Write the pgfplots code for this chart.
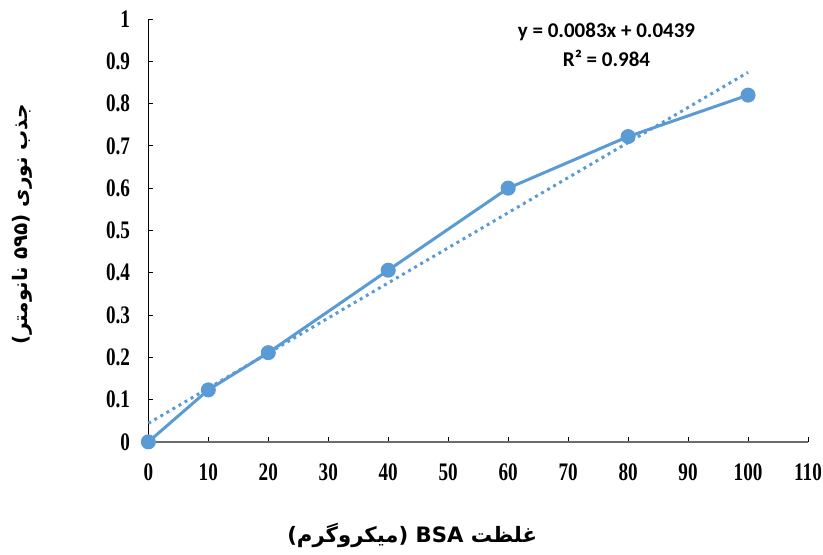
\documentclass[border=0pt]{standalone}
\usepackage{pgfplots}
\pgfplotsset{compat=1.18}
\usepackage{fontspec}
\setmainfont{Liberation Serif}
\newfontfamily\tickfont{Liberation Serif}[FakeStretch=0.76]
\newfontfamily\eqfont{Carlito}
\newfontfamily\arabicfont[Script=Arabic]{DejaVu Sans}
\TeXXeTstate=1
\definecolor{obl}{RGB}{91,155,213}
\begin{document}
\begin{tikzpicture}
\begin{axis}[
  scale only axis,
  width=329.7pt, height=211.35pt,
  xmin=0, xmax=110, ymin=0, ymax=1,
  xtick={0,10,...,110},
  ytick={0,0.1,...,1},
  yticklabels={0,0.1,0.2,0.3,0.4,0.5,0.6,0.7,0.8,0.9,1},
  axis x line=bottom, axis y line=left,
  x axis line style={draw=gray!85!black, line width=1pt, -},
  y axis line style={draw=black, line width=0.5pt, -},
  tick align=inside,
  major tick length=2.5pt,
  tick style={black, line width=0.5pt},
  /pgf/number format/assume math mode=true,
  ticklabel style={font=\tickfont\fontsize{12.6pt}{14pt}\selectfont\bfseries, inner sep=0pt},
  xticklabel style={anchor=center, yshift=-15.2pt},
  yticklabel style={anchor=east, xshift=-9pt},
  clip=false,
]
\addplot[obl, line width=1.5pt, mark=*, mark size=3pt, mark options={fill=obl, draw=obl}]
  coordinates {(0,0) (10,0.123) (20,0.211) (40,0.406) (60,0.600) (80,0.722) (100,0.820)};
\addplot[obl, line width=1.5pt, dash pattern=on 1.5pt off 2pt, no marks]
  coordinates {(0,0.0439) (100,0.8739)};
\node[font=\eqfont\fontsize{10.5pt}{12pt}\selectfont\bfseries, align=center] at (axis cs:76.4,0.938)
  {y = 0.0083x + 0.0439\\[2.5pt]R² = 0.984};
\node[font=\arabicfont\fontsize{10.6pt}{12pt}\selectfont\bfseries] at (axis cs:44.0,-0.222)
  {\beginR غلظت \beginL BSA\endL{} (میکروگرم)\endR};
\node[font=\arabicfont\fontsize{10pt}{12pt}\selectfont\bfseries, rotate=90] at (axis cs:-21.0,0.515)
  {\beginR جذب نوری (۵۹۵ نانومتر)\endR};
\coordinate (bl) at (axis cs:-24.74,-0.2633);
\coordinate (tr) at (axis cs:112.5,1.045);
\end{axis}
\path[use as bounding box] (bl) rectangle (tr);
\end{tikzpicture}
\end{document}
